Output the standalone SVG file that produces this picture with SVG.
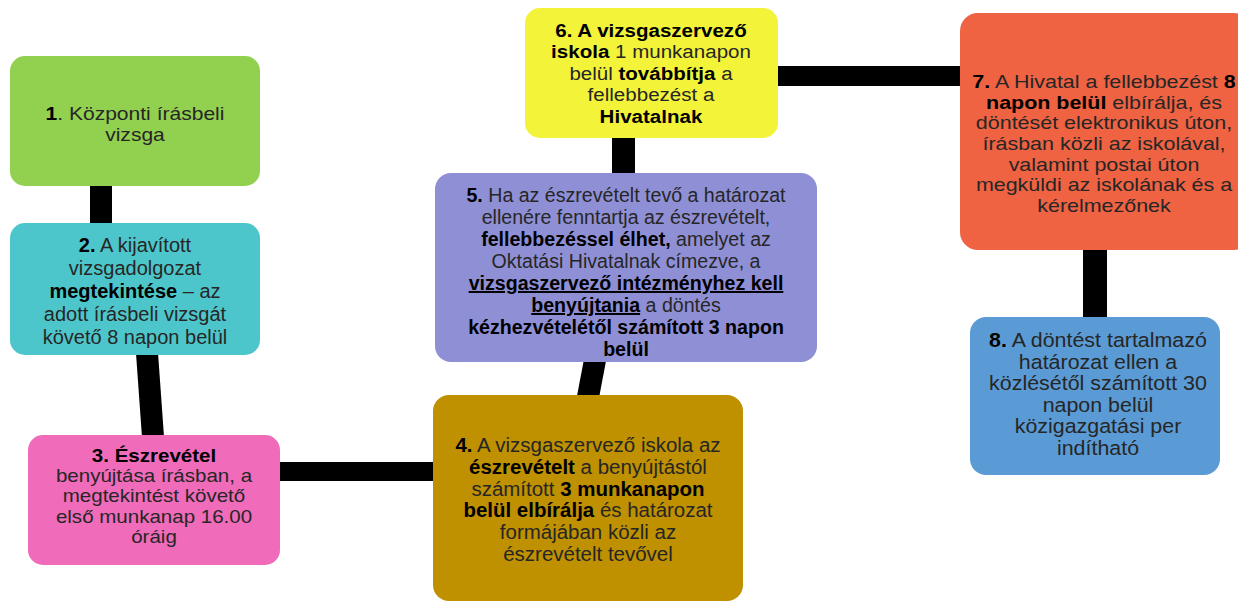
<svg xmlns="http://www.w3.org/2000/svg" width="1238" height="604" viewBox="0 0 1238 604">
<style>
  .box { stroke: none; }
  .t { font-family: "Liberation Sans", Arial, sans-serif; fill: #262626; text-anchor: middle; }
  .b { font-weight: bold; fill: #000; }
  .u { text-decoration: underline; }
  .c { stroke: #000; fill: none; stroke-linecap: butt; }
</style>
<rect width="1238" height="604" fill="#fff"/>
<g id="connectors">
  <line class="c" x1="101" y1="184" x2="101" y2="225" stroke-width="22"/>
  <line class="c" x1="147" y1="353" x2="153" y2="437" stroke-width="22"/>
  <line class="c" x1="278" y1="471.5" x2="435" y2="471.5" stroke-width="19"/>
  <line class="c" x1="595" y1="360" x2="588" y2="397" stroke-width="22"/>
  <line class="c" x1="623.5" y1="136" x2="623.5" y2="175" stroke-width="23"/>
  <line class="c" x1="776" y1="76" x2="962" y2="76" stroke-width="20"/>
  <line class="c" x1="1095" y1="248" x2="1095" y2="319" stroke-width="24"/>
</g>
<g id="node1">
  <rect class="box" x="10" y="56" width="250" height="130" rx="15" fill="#92D050"/>
  <text class="t" font-size="18.8" transform="matrix(1.12 0 0 1 -16.2 0)"><tspan x="135" y="120"><tspan class="b">1</tspan>. Központi írásbeli</tspan><tspan x="135" y="141">vizsga</tspan></text>
</g>
<g id="node2">
  <rect class="box" x="10" y="223" width="250" height="132" rx="15" fill="#4DC6CB"/>
  <text class="t" font-size="20"><tspan x="135" y="252"><tspan class="b">2.</tspan> A kijavított</tspan><tspan x="135" y="275">vizsgadolgozat</tspan><tspan x="135" y="298"><tspan class="b">megtekintése</tspan> – az</tspan><tspan x="135" y="321">adott írásbeli vizsgát</tspan><tspan x="135" y="344">követő 8 napon belül</tspan></text>
</g>
<g id="node3">
  <rect class="box" x="28" y="435" width="252" height="130" rx="15" fill="#F06BB9"/>
  <text class="t" font-size="18" transform="matrix(1.14 0 0 1 -21.56 0)"><tspan x="154" y="462" class="b">3. Észrevétel</tspan><tspan x="154" y="482">benyújtása írásban, a</tspan><tspan x="154" y="502.5">megtekintést követő</tspan><tspan x="154" y="523">első munkanap 16.00</tspan><tspan x="154" y="543.5">óráig</tspan></text>
</g>
<g id="node4">
  <rect class="box" x="433" y="395" width="310" height="206" rx="16" fill="#BF9000"/>
  <text class="t" font-size="19.5" transform="matrix(1.05 0 0 1 -29.4 0)"><tspan x="588" y="452"><tspan class="b">4.</tspan> A vizsgaszervező iskola az</tspan><tspan x="588" y="473.8"><tspan class="b">észrevételt</tspan> a benyújtástól</tspan><tspan x="588" y="495.6">számított <tspan class="b">3 munkanapon</tspan></tspan><tspan x="588" y="517.4"><tspan class="b">belül elbírálja</tspan> és határozat</tspan><tspan x="588" y="539.2">formájában közli az</tspan><tspan x="588" y="561">észrevételt tevővel</tspan></text>
</g>
<g id="node5">
  <rect class="box" x="435" y="173" width="382" height="189" rx="16" fill="#8F8FD5"/>
  <text class="t" font-size="19.6"><tspan x="626" y="202"><tspan class="b">5.</tspan> Ha az észrevételt tevő a határozat</tspan><tspan x="626" y="224">ellenére fenntartja az észrevételt,</tspan><tspan x="626" y="246"><tspan class="b">fellebbezéssel élhet,</tspan> amelyet az</tspan><tspan x="626" y="268">Oktatási Hivatalnak címezve, a</tspan><tspan x="626" y="290" class="b u">vizsgaszervező intézményhez kell</tspan><tspan x="626" y="312"><tspan class="b u">benyújtania</tspan> a döntés</tspan><tspan x="626" y="334" class="b">kézhezvételétől számított 3 napon</tspan><tspan x="626" y="356" class="b">belül</tspan></text>
</g>
<g id="node6">
  <rect class="box" x="525" y="8" width="253" height="130" rx="15" fill="#F3F33A"/>
  <text class="t" font-size="19.2" transform="matrix(1.07 0 0 1 -45.57 0)"><tspan x="651" y="37" class="b">6. A vizsgaszervező</tspan><tspan x="651" y="58.5"><tspan class="b">iskola</tspan> 1 munkanapon</tspan><tspan x="651" y="80">belül <tspan class="b">továbbítja</tspan> a</tspan><tspan x="651" y="101.5">fellebbezést a</tspan><tspan x="651" y="123" class="b">Hivatalnak</tspan></text>
</g>
<g id="node7">
  <rect class="box" x="960" y="13" width="292" height="237" rx="18" fill="#EF6242"/>
  <text class="t" font-size="18.5" transform="matrix(1.16 0 0 1 -176.64 0)"><tspan x="1104" y="88"><tspan class="b">7.</tspan> A Hivatal a fellebbezést <tspan class="b">8</tspan></tspan><tspan x="1104" y="108.7"><tspan class="b">napon belül</tspan> elbírálja, és</tspan><tspan x="1104" y="129.4">döntését elektronikus úton,</tspan><tspan x="1104" y="150.1">írásban közli az iskolával,</tspan><tspan x="1104" y="170.8">valamint postai úton</tspan><tspan x="1104" y="191.5">megküldi az iskolának és a</tspan><tspan x="1104" y="212.2">kérelmezőnek</tspan></text>
</g>
<g id="node8">
  <rect class="box" x="970" y="317" width="250" height="158" rx="16" fill="#5B9BD5"/>
  <text class="t" font-size="19.3" transform="matrix(1.11 0 0 1 -120.78 0)"><tspan x="1098" y="347"><tspan class="b">8.</tspan> A döntést tartalmazó</tspan><tspan x="1098" y="368.6">határozat ellen a</tspan><tspan x="1098" y="390.2">közlésétől számított 30</tspan><tspan x="1098" y="411.8">napon belül</tspan><tspan x="1098" y="433.4">közigazgatási per</tspan><tspan x="1098" y="455">indítható</tspan></text>
</g>
</svg>
